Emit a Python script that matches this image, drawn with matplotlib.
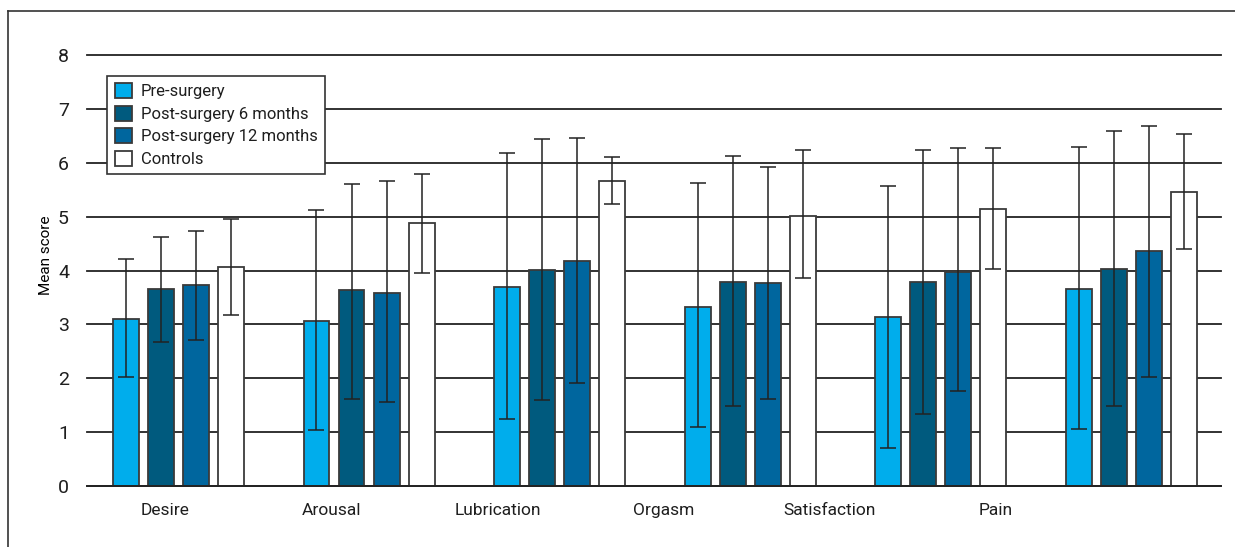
import numpy as np
import matplotlib
matplotlib.use("Agg")
import matplotlib.pyplot as plt
from matplotlib.lines import Line2D

plt.rcParams['font.family'] = ['Roboto', 'DejaVu Sans']
plt.rcParams['text.color'] = "#1e1e1e"
plt.rcParams['xtick.color'] = "#1e1e1e"
plt.rcParams['ytick.color'] = "#1e1e1e"

# ====== Data ======
domains = ["Desire", "Arousal", "Lubrication", "Orgasm", "Satisfaction", "Pain"]
series = ["Pre-surgery", "Post-surgery 6 months", "Post-surgery 12 months", "Controls"]

pre_mean  = [3.10, 3.06, 3.69, 3.33, 3.13, 3.66]
pre_lo    = [2.02, 1.04, 1.24, 1.09, 0.70, 1.06]
pre_hi    = [4.21, 5.12, 6.18, 5.62, 5.57, 6.29]

m6_mean   = [3.65, 3.63, 4.01, 3.78, 3.79, 4.03]
m6_lo     = [2.67, 1.62, 1.60, 1.48, 1.34, 1.49]
m6_hi     = [4.62, 5.61, 6.44, 6.12, 6.24, 6.59]

m12_mean  = [3.74, 3.59, 4.18, 3.76, 3.98, 4.36]
m12_lo    = [2.71, 1.56, 1.92, 1.61, 1.76, 2.03]
m12_hi    = [4.73, 5.66, 6.46, 5.93, 6.28, 6.68]

ctl_mean  = [4.07, 4.88, 5.66, 5.02, 5.15, 5.46]
ctl_lo    = [3.18, 3.96, 5.23, 3.86, 4.03, 4.40]
ctl_hi    = [4.95, 5.79, 6.10, 6.23, 6.27, 6.54]

y_ticks = [0, 1, 2, 3, 4, 5, 6, 7, 8]

means = [pre_mean, m6_mean, m12_mean, ctl_mean]
los = [pre_lo, m6_lo, m12_lo, ctl_lo]
his = [pre_hi, m6_hi, m12_hi, ctl_hi]
colors = ["#00adec", "#005a7e", "#00669e", "#ffffff"]

# ====== Figure ======
fig = plt.figure(figsize=(12.35, 5.47), dpi=100)
ax = fig.add_axes([87 / 1235, 1 - 486 / 547, (1221 - 87) / 1235, (486 - 55) / 547])

x = np.arange(len(domains))
width = 0.136
step = 0.184
offsets = (np.arange(4) - 1.5) * step

ax.set_axisbelow(True)
ax.yaxis.grid(True, color="#222222", linewidth=1.3)

for i in range(4):
    m = np.array(means[i])
    lo = m - np.array(los[i])
    hi = np.array(his[i]) - m
    ax.bar(x + offsets[i], m, width, color=colors[i], edgecolor="#3a3a3a",
           linewidth=1.3, label=series[i], zorder=2)
    ax.errorbar(x + offsets[i], m, yerr=[lo, hi], fmt="none", ecolor="#222222",
                elinewidth=1.1, capsize=5.5, capthick=1.1, zorder=3)

ax.set_xlim(-0.48, 5.47)
ax.set_ylim(0, 8)
ax.set_yticks(y_ticks)
ax.tick_params(axis="y", length=0, pad=13, labelsize=14)
ax.tick_params(axis="x", length=0, pad=12, labelsize=12.5)
for gl in ax.get_ygridlines():
    gl.set_clip_on(False)

# category labels sit left of the groups in the original
label_pos = -0.07 + 0.872 * np.arange(len(domains))
ax.set_xticks(label_pos)
ax.set_xticklabels(domains)

for s in ["top", "right", "left"]:
    ax.spines[s].set_visible(False)
ax.spines["bottom"].set_color("#222222")
ax.spines["bottom"].set_linewidth(1.3)

ax.set_ylabel("Mean score", fontsize=11)
ax.yaxis.set_label_coords(-0.030, 0.536)

leg = ax.legend(loc="upper left", bbox_to_anchor=(0.018, 0.952), fontsize=12,
                frameon=True, fancybox=False, edgecolor="#333333",
                handlelength=1.0, handleheight=1.0, handletextpad=0.55,
                labelspacing=0.38, borderpad=0.45, borderaxespad=0,
                framealpha=1)
leg.get_frame().set_linewidth(1.2)
leg.set_zorder(5)

# outer frame lines (top and left)
fig.add_artist(Line2D([8 / 1235, 1], [1 - 11 / 547, 1 - 11 / 547], color="#333333", linewidth=1.2))
fig.add_artist(Line2D([8 / 1235, 8 / 1235], [0, 1 - 11 / 547], color="#333333", linewidth=1.2))

fig.savefig("out.png", dpi=100)
